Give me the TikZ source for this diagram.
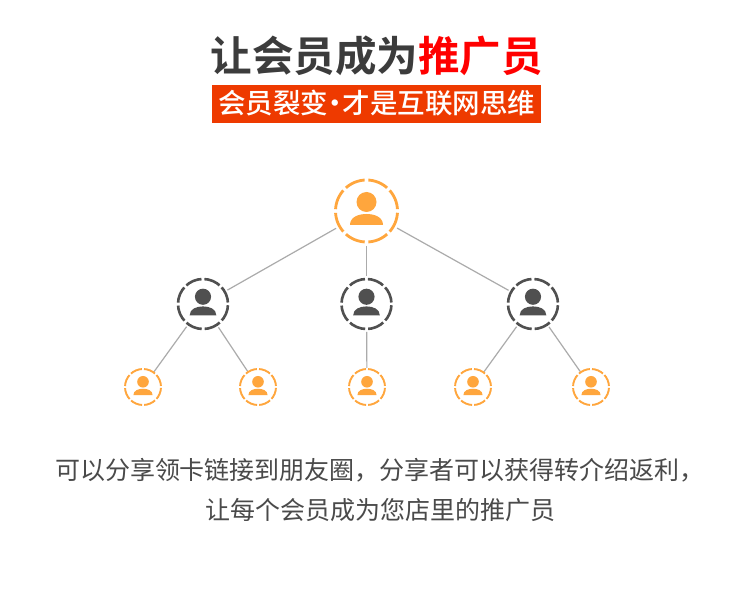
\documentclass[tikz,border=0pt]{standalone}
\usepackage{fontspec}
\setmainfont{Noto Sans CJK SC}
\newfontfamily\cjkb{Noto Sans CJK SC Bold}
\newfontfamily\cjkm{Noto Sans CJK SC Medium}
\definecolor{ora}{HTML}{FFA63D}
\definecolor{dk}{HTML}{505050}
\definecolor{ttl}{HTML}{3C3C3C}
\definecolor{bar}{HTML}{EE3A00}
\definecolor{lin}{HTML}{ABABAB}
\definecolor{bodyt}{HTML}{4A4A4A}
\newcommand{\personicon}[4]{% centre name, radius, colour, ring width
  \pgfmathsetmacro{\rr}{#2}
  \pgfmathsetmacro{\dashlen}{2*pi*\rr/8}
  \pgfmathsetmacro{\dashoff}{\dashlen*0.15}
  \pgfmathsetmacro{\dashon}{\dashlen-\dashoff}
  \pgfmathsetmacro{\dashph}{\dashon+\dashoff/2}
  \begin{scope}[shift={(#1.center)}]
    \draw[#3,line width=#4pt,dash pattern=on \dashon pt off \dashoff pt,dash phase=\dashph pt] (0:\rr pt) arc[start angle=0,end angle=360,radius=\rr pt];
    \fill[#3] (0,{-9/31*\rr}) circle[radius={10/31*\rr}];
    \fill[#3] ({-16.5/31*\rr},{14/31*\rr}) .. controls ({-16.5/31*\rr},{6/31*\rr}) and ({-8/31*\rr},{3/31*\rr}) .. (0,{3/31*\rr})
      .. controls ({8/31*\rr},{3/31*\rr}) and ({16.5/31*\rr},{6/31*\rr}) .. ({16.5/31*\rr},{14/31*\rr}) -- cycle;
  \end{scope}}
\tikzset{
  x=1pt,y=-1pt,
  anchorpt/.style={circle,inner sep=0pt,outer sep=0pt,minimum size=#1},
  linkline/.style={lin,line width=1.2pt},
  ttltext/.style={font=\cjkb\fontsize{41.5}{41.5}\selectfont,inner sep=0pt},
  subtext/.style={font=\cjkm\fontsize{27.5}{27.5}\selectfont,text=white,inner sep=0pt},
  bodytext/.style={font=\fontsize{25}{25}\selectfont,text=bodyt,inner sep=0pt}
}
\begin{document}
\begin{tikzpicture}
\useasboundingbox (0,0) rectangle (750,593);
\fill[white] (0,0) rectangle (750,593);
\node[ttltext,anchor=center] (title) at (376.5,56) {\textcolor{ttl}{让会员成为}\textcolor{red}{推广员}};
\node[fill=bar,minimum width=329pt,minimum height=37.5pt,inner sep=0pt] (bar) at (376.2,104) {};
\node[subtext] (sub) at (376.5,103.5) {会员裂变\makebox[14.5pt][c]{·}才是互联网思维};
\node[anchor=center,bodytext] (l1) at (380,470) {可以分享领卡链接到朋友圈，分享者可以获得转介绍返利，};
\node[anchor=center,bodytext] (l2) at (380,510) {让每个会员成为您店里的推广员};

\node[anchorpt=70pt] (top) at (366.5,211) {};
\node[anchorpt=56pt] (m1) at (203,304) {};
\node[anchorpt=56pt] (m2) at (366.5,304) {};
\node[anchorpt=56pt] (m3) at (533,304) {};
\node[anchorpt=38pt] (c1) at (143,387) {};
\node[anchorpt=38pt] (c2) at (258,387) {};
\node[anchorpt=38pt] (c3) at (367,387) {};
\node[anchorpt=38pt] (c4) at (473,387) {};
\node[anchorpt=38pt] (c5) at (591,387) {};

\draw[linkline] (top)--(m1);
\draw[linkline] (top)--(m2);
\draw[linkline] (top)--(m3);
\draw[linkline] (m1)--(c1);
\draw[linkline] (m1)--(c2);
\draw[linkline] (m2)--(c3);
\draw[linkline] (m3)--(c4);
\draw[linkline] (m3)--(c5);

\personicon{top}{31}{ora}{2.8}
\personicon{m1}{25}{dk}{2.6}
\personicon{m2}{25}{dk}{2.6}
\personicon{m3}{25}{dk}{2.6}
\personicon{c1}{18}{ora}{1.9}
\personicon{c2}{18}{ora}{1.9}
\personicon{c3}{18}{ora}{1.9}
\personicon{c4}{18}{ora}{1.9}
\personicon{c5}{18}{ora}{1.9}
\end{tikzpicture}
\end{document}
